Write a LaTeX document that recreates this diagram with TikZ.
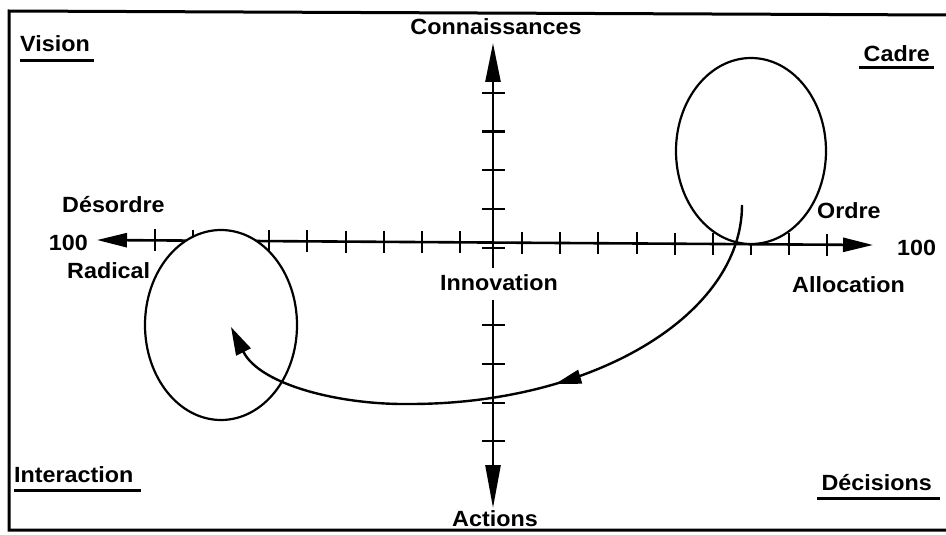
\documentclass[tikz,border=0pt]{standalone}
\usepackage{fontspec}
\newfontfamily\lblfont{Liberation Sans}[FakeStretch=1.06]
\usetikzlibrary{arrows.meta,decorations.markings,calc,shapes.geometric}
\tikzset{
  lbl/.style={font=\lblfont\bfseries\fontsize{22}{24}\selectfont, inner sep=0pt},
  axisline/.style={line width=2.6pt},
  tickmark/.style={line width=2.4pt},
  loopell/.style={draw, ellipse, line width=2.2pt, fill=white, inner sep=0pt},
  flow/.style={line width=2.4pt},
  uline/.style={line width=3pt},
  framestyle/.style={line width=3pt},
}
\begin{document}
\begin{tikzpicture}[x=1pt,y=-1pt]
\useasboundingbox (0,0) rectangle (946,535);
\draw[framestyle] (946,15) -- (9,11) -- (9,530) -- (946,530);

% axes end points
\coordinate (L) at (97,240);
\coordinate (R) at (873,245);
\coordinate (T) at (493,43);
\coordinate (vup) at (493,268);
\coordinate (vdn) at (493,300);
\coordinate (B) at (493,508);

% horizontal axis
\draw[axisline, {Triangle[length=30pt,width=14pt]}-{Triangle[length=30pt,width=14pt]}] (L) -- (R);
\foreach \x in {155,193,231,269,307,346,384,422,460,522,560,598,637,675,713,751,789,827}{
  \pgfmathsetmacro\yy{240+5*(\x-97)/776}
  \draw[tickmark] (\x,{\yy-11}) -- (\x,{\yy+11});
}
% vertical axis
\draw[axisline, -{Triangle[length=39pt,width=15pt]}] (vup) -- (T);
\draw[axisline, -{Triangle[length=43pt,width=15pt]}] (vdn) -- (B);
\foreach \y in {93,131.5,170,209,248,325,364,403,441}{
  \draw[tickmark] (482,\y) -- (505,\y);
}

% loops
\node[loopell, minimum width=152pt, minimum height=190pt] (loopL) at (221,325) {};
\node[loopell, minimum width=150pt, minimum height=186pt] (loopR) at (751,151) {};

% flow curve
\coordinate (cs) at (742,205);
\coordinate (cm) at (410,404);
\coordinate (ce) at (231,327);
\draw[flow, -{Triangle[length=28pt,width=16pt]},
  postaction={decorate},
  decoration={markings, mark=at position 0.44 with {\arrow{Triangle[length=26pt,width=14pt]}}}]
  (cs) .. controls (742,315) and (593,404) .. (cm)
       .. controls (340,405) and (260,385) .. (ce);

% labels
\node[lbl, anchor=base] (conn) at (496,35) {Connaissances};
\node[lbl, anchor=base] (actions) at (495,526) {Actions};
\node[lbl, anchor=base] (innov) at (499,290) {Innovation};
\node[lbl, anchor=base west] (vision) at (20,52) {Vision};
\node[lbl, anchor=base east] (cadre) at (930,62) {Cadre};
\node[lbl, anchor=base west] (inter) at (14,482) {Interaction};
\node[lbl, anchor=base east] (decis) at (932,490) {Décisions};
\node[lbl, anchor=base west] (desordre) at (62,212) {Désordre};
\node[lbl, anchor=base east] (hundL) at (88,250) {100};
\node[lbl, anchor=base west] (radical) at (67,278) {Radical};
\node[lbl, anchor=base west] (ordre) at (817,218) {Ordre};
\node[lbl, anchor=base west] (hundR) at (897,255) {100};
\node[lbl, anchor=base west] (alloc) at (792,292) {Allocation};

% underlines
\draw[uline] ($(vision.base west)+(0,9)$) -- ($(vision.base east)+(4,9)$);
\draw[uline] ($(cadre.base west)+(-5,6)$) -- ($(cadre.base east)+(4,6)$);
\draw[uline] ($(inter.base west)+(0,8)$) -- ($(inter.base east)+(7,8)$);
\draw[uline] ($(decis.base west)+(-4,8)$) -- ($(decis.base east)+(8,8)$);
\end{tikzpicture}
\end{document}
